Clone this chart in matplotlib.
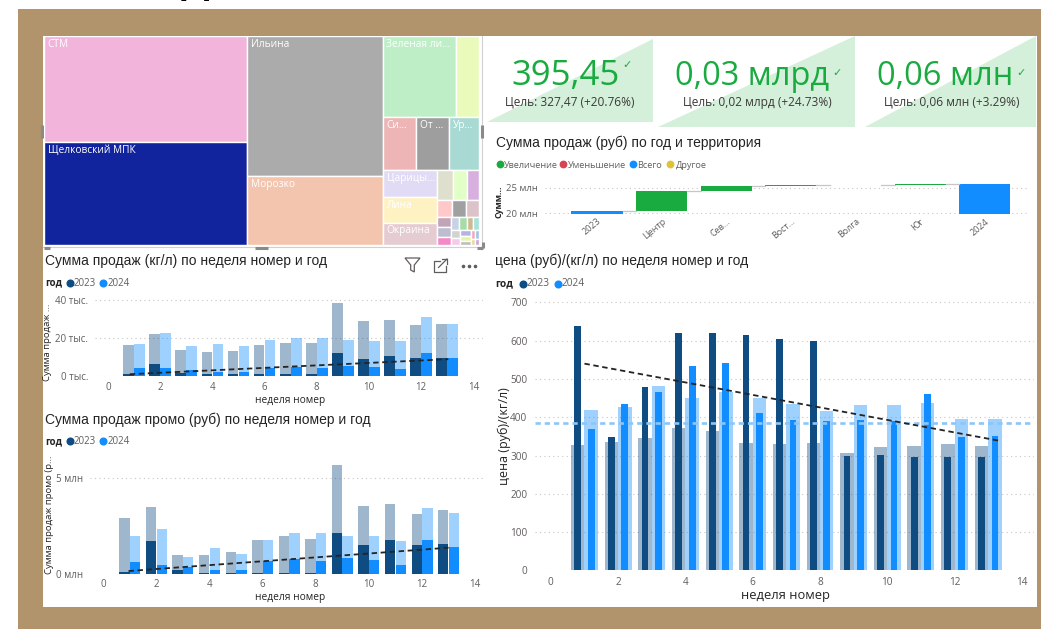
import numpy as np
import matplotlib.pyplot as plt
from matplotlib.patches import Rectangle, Polygon

plt.rcParams['font.family'] = ['Open Sans', 'DejaVu Sans']
ARIAL = ['Liberation Sans', 'DejaVu Sans']

W, H = 1041, 629

# treemap (доля продаж по производителю)
tm_labels = ['СТМ', 'Щелковский МПК', 'Ильина', 'Морозко', 'Зеленая ли...', '',
             'Си...', 'От ...', 'Ур...', 'Царицы...', 'Лина', 'Окраина'] + [''] * 22
tm_values = [21518, 20909, 19040, 9384, 5913, 1863, 1749, 1749, 1590, 1458, 1388, 1204,
             480, 420, 360, 255, 221, 221,
             150, 140, 120, 110, 100, 90, 80, 70, 60, 55, 50, 45, 40, 35, 28, 20]
tm_colors = ['#F2B4DB', '#12239E', '#ABABAB', '#F4C5AE', '#BEEEC6', '#EAFABB',
             '#EDB5B5', '#9E9E9E', '#A8DAD3', '#E1DBF6', '#FFF2C2', '#E5CCD1',
             '#DEDFCC', '#E2FFC8', '#D8B0E0', '#FFC9C9', '#A0A0A0', '#DCC3C9',
             '#C2A4B9', '#BDBDCF', '#F589C8', '#C8D2E6', '#A8DBAA', '#CBBB8E',
             '#A6E3D9', '#D2D2D2', '#F6CBEA', '#B4B4E3', '#E4F6A4', '#BEBEBE',
             '#F2A8B8', '#9FC4E8', '#E8D8A0', '#C9A6D9']

# KPI cards
kpi_values = ['395,45', '0,03 млрд', '0,06 млн']
kpi_goals = ['Цель: 327,47 (+20.76%)', 'Цель: 0,02 млрд (+24.73%)', 'Цель: 0,06 млн (+3.29%)']

# waterfall, млн руб
wf_labels = ['2023', 'Центр', 'Сев...', 'Вост...', 'Волга', 'Юг', '2024']
wf_total_2023 = 20.45
wf_changes = [3.90, 1.03, 0.15, 0.06, 0.06]
wf_legend = ['Увеличение', 'Уменьшение', 'Всего', 'Другое']

# weekly data
weeks = np.arange(1, 14)
kg_2023_all = [16.3, 22.3, 13.7, 12.5, 13.2, 16.1, 17.5, 17.2, 38.2, 28.8, 29.3, 26.8, 27.2]
kg_2024_all = [16.8, 22.6, 15.8, 16.7, 15.8, 18.8, 19.8, 20.0, 18.9, 18.6, 18.2, 31.1, 27.4]
kg_2023_sel = [0.9, 6.3, 1.6, 0.9, 0.9, 0.9, 0.9, 1.0, 11.9, 8.9, 10.5, 9.6, 9.3]
kg_2024_sel = [4.0, 4.4, 3.2, 2.3, 2.3, 4.2, 4.7, 4.4, 5.3, 4.7, 3.5, 12.3, 9.6]

promo_2023_all = [2.88, 3.45, 0.95, 0.97, 1.15, 1.75, 1.98, 1.82, 5.66, 3.54, 3.63, 3.11, 3.30]
promo_2024_all = [1.96, 2.33, 0.89, 1.32, 1.01, 1.74, 2.12, 2.12, 1.98, 1.98, 1.68, 3.40, 3.18]
promo_2023_sel = [0.07, 1.68, 0.19, 0.05, 0.05, 0.05, 0.05, 0.05, 2.10, 1.48, 1.74, 1.51, 1.55]
promo_2024_sel = [0.61, 0.45, 0.36, 0.21, 0.17, 0.64, 0.78, 0.64, 0.80, 0.69, 0.43, 1.74, 1.39]

price_2023_all = [328, 336, 345, 372, 364, 332, 330, 332, 306, 323, 324, 330, 326]
price_2024_all = [420, 427, 481, 450, 466, 451, 435, 416, 432, 432, 437, 396, 396]
price_2023_sel = [638, 348, 479, 620, 621, 615, 604, 599, 299, 302, 297, 297, 296]
price_2024_sel = [369, 434, 465, 533, 541, 411, 392, 390, 392, 389, 462, 348, 351]

C23 = '#0F4C81'
C24 = '#118DFF'
GREEN = '#1AAB40'
TXT = '#252423'
TICK = '#605E5C'


def squarify(vals, x0, y0, x1, y1, ratio=(1 + 5 ** 0.5) / 2):
    # d3-style squarified layout
    rects = []
    n = len(vals)
    i0 = 0
    value = float(sum(vals))
    while i0 < n:
        dx, dy = x1 - x0, y1 - y0
        i1 = i0
        s = vals[i1]
        i1 += 1
        mn = mx = s
        alpha = max(dy / dx, dx / dy) / (value * ratio)
        beta = s * s * alpha
        best = max(mx / beta, beta / mn)
        while i1 < n:
            v = vals[i1]
            s2 = s + v
            mn2, mx2 = min(mn, v), max(mx, v)
            beta = s2 * s2 * alpha
            r = max(mx2 / beta, beta / mn2)
            if r > best:
                break
            s, mn, mx, best = s2, mn2, mx2, r
            i1 += 1
        row = vals[i0:i1]
        if dx < dy:
            yb = y0 + dy * s / value
            xx = x0
            for v in row:
                w = dx * v / s
                rects.append((xx, y0, w, yb - y0))
                xx += w
            y0 = yb
        else:
            xb = x0 + dx * s / value
            yy = y0
            for v in row:
                h = dy * v / s
                rects.append((x0, yy, xb - x0, h))
                yy += h
            x0 = xb
        value -= s
        i0 = i1
    return rects


fig = plt.figure(figsize=(W / 100, H / 100), dpi=100)
bg = fig.add_axes([0, 0, 1, 1])
bg.set_xlim(0, W)
bg.set_ylim(H, 0)
bg.axis('off')
bg.add_patch(Rectangle((18, 9), W - 18, H - 9, color='#B1936C', lw=0))
bg.add_patch(Rectangle((43, 36), 994, 571, color='white', lw=0))
# heading above the screenshot, only its bottom edge is visible
bg.text(181, -7, 'Д', fontsize=29, fontweight='bold', family=ARIAL, va='baseline', color='black')


def px_axes(x0, y0, x1, y1):
    return fig.add_axes([x0 / W, 1 - y1 / H, (x1 - x0) / W, (y1 - y0) / H])


def style(ax, size=7):
    for s in ax.spines.values():
        s.set_visible(False)
    ax.tick_params(length=0, labelsize=size, labelcolor=TICK)
    ax.grid(axis='y', color='#C8C6C4', ls=(0, (1, 3)), lw=0.8)
    ax.set_axisbelow(True)
    ax.patch.set_alpha(0)


# ---- treemap
tm = px_axes(44, 36, 479, 245)
tm.set_xlim(0, 435)
tm.set_ylim(209, 0)
tm.axis('off')
for (x, y, w, h), lab, col in zip(squarify(tm_values, 0, 0, 435, 209), tm_labels, tm_colors):
    tm.add_patch(Rectangle((x, y), w, h, facecolor=col, edgecolor='white', lw=1))
    if lab:
        tm.text(x + 3.5, y + 8, lab, color='white', fontsize=7.3, va='center', ha='left')

# selection frame of treemap
bg.plot([482, 482], [36, 247], color='#D0D0D0', lw=0.8)
bg.plot([43, 482], [247, 247], color='#D0D0D0', lw=0.8)
for xs, ys in [([482, 482], [125, 138]), ([41.5, 41.5], [125, 138]), ([255, 268], [248, 248]),
               ([44, 50], [248, 248]), ([477, 483], [248, 248]), ([483, 483], [242, 248])]:
    bg.plot(xs, ys, color='#8A8A8A', lw=2.2, solid_capstyle='butt')

# ---- KPI cards
cards = [(487, 39, 653, 122), (658, 36, 855, 127), (865, 36, 1036, 127)]
val_pos = [(566, 85, 25), (752, 85, 23.5), (945, 85, 23.5)]
goal_pos = [(570, 105), (757.5, 106), (951.5, 106)]
check_pos = [(627.5, 65), (837, 73), (1021, 73)]
for (x0, y0, x1, y1), val, goal, (vx, vy, fs), (gx, gy), (cx, cy) in zip(
        cards, kpi_values, kpi_goals, val_pos, goal_pos, check_pos):
    bg.add_patch(Polygon([(x0, y1), (x1, y1), (x1, y0)], closed=True, color='#D4EFDA', lw=0))
    bg.text(vx, vy, val, fontsize=fs, color=GREEN, ha='center', va='baseline')
    bg.text(gx, gy, goal, fontsize=8.6, color='#3B3A39', ha='center', va='baseline')
    bg.text(cx, cy, '✓', fontsize=8, color=GREEN, ha='center', va='center',
            family=['DejaVu Sans'])

# ---- waterfall
bg.text(495.5, 146.5, 'Сумма продаж (руб) по год и территория', fontsize=10, color=TXT,
        family=ARIAL, va='baseline')
for cx, tx, lab, col in zip([499.5, 563, 633, 670], [504, 567.5, 637.5, 675.5], wf_legend,
                            [GREEN, '#D64554', C24, '#E1C233']):
    bg.plot(cx, 164.3, 'o', ms=4.6, color=col)
    bg.text(tx, 167.5, lab, fontsize=6.6, color=TICK, va='baseline')
bg.text(499, 201.7, 'Сумм...', fontsize=6.3, fontweight='bold', color=TXT, rotation=90,
        ha='center', va='center')

wf = px_axes(545, 180, 1028, 214.1)
style(wf, 6.8)
wf.set_xlim(-0.805, 6.67)
wf.set_ylim(19.85, 26.5)
bw = 0.79
levels = np.cumsum([wf_total_2023] + wf_changes)
wf.bar(0, wf_total_2023, width=bw, color=C24)
for i, d in enumerate(wf_changes, start=1):
    wf.bar(i, d, bottom=levels[i - 1], width=bw, color=GREEN if d >= 0 else '#D64554')
wf.bar(len(wf_labels) - 1, levels[-1], width=bw, color=C24)
for i, lv in enumerate(levels):
    wf.plot([i + bw / 2, i + 1 - bw / 2], [lv, lv], color='#C8C6C4', lw=0.9)
wf.set_yticks([20, 25], ['20 млн', '25 млн'])
wf.set_xticks(range(len(wf_labels)), wf_labels, rotation=40, ha='right',
              rotation_mode='anchor', fontsize=6.5)
wf.tick_params(axis='x', pad=2)
wf.tick_params(axis='y', pad=5)


# ---- weekly charts
def year_legend(x, base, d1, d2, fs=7):
    bg.text(x, base, 'год', fontsize=fs, fontweight='bold', color=TXT, va='baseline')
    for dx, lab, col in [(d1, '2023', C23), (d2, '2024', C24)]:
        bg.plot(x + dx, base - 3, 'o', ms=4.8, color=col)
        bg.text(x + dx + 4, base, lab, fontsize=fs, color=TICK, va='baseline')


def week_bars(ax, a23, a24, s23, s24, w, sw, off):
    ax.bar(weeks - off, a23, width=w, color=C23, alpha=0.4, lw=0)
    ax.bar(weeks + off, a24, width=w, color=C24, alpha=0.4, lw=0)
    ax.bar(weeks - off, s23, width=sw, color=C23, lw=0)
    ax.bar(weeks + off, s24, width=sw, color=C24, lw=0)


def trend(ax, s23, s24, t0, t1):
    x = np.concatenate([weeks, weeks])
    y = np.concatenate([s23, s24])
    k, b = np.polyfit(x, y, 1)
    xt = np.array([weeks[0] + t0, weeks[-1] + t1])
    ax.plot(xt, k * xt + b, color=TXT, ls=(0, (3, 2)), lw=1.3)


# top-left: кг/л
bg.text(45, 265, 'Сумма продаж (кг/л) по неделя номер и год', fontsize=10, color=TXT,
        family=ARIAL, va='baseline')
year_legend(45, 285.7, 25, 58.3)
ax1 = px_axes(95, 296.2, 483, 376)
style(ax1)
ax1.set_xlim(-0.5, 14.37)
ax1.set_ylim(0, 42)
week_bars(ax1, kg_2023_all, kg_2024_all, kg_2023_sel, kg_2024_sel, 0.41, 0.41, 0.21)
trend(ax1, kg_2023_sel, kg_2024_sel, -0.17, 0.04)
ax1.set_yticks([0, 20, 40], ['0 тыс.', '20 тыс.', '40 тыс.'])
ax1.set_xticks(range(0, 15, 2))
ax1.tick_params(axis='y', pad=5)
ax1.tick_params(axis='x', pad=4)
bg.text(290, 402.7, 'неделя номер', fontsize=7.3, color=TXT, ha='center', va='baseline')
bg.text(48, 342, 'Сумма продаж ...', fontsize=6.8, color=TXT, rotation=90,
        ha='center', va='center')

# filter / focus / more icons
bg.add_patch(Polygon([(405, 258), (420, 258), (414.3, 265), (414.3, 272), (410.7, 270),
                      (410.7, 265)], closed=True, fill=False, ec=TICK, lw=0.9))
bg.plot([440, 434, 434, 446, 446], [261, 261, 272, 272, 266], color=TICK, lw=0.9)
bg.plot([438.5, 447], [267.5, 259], color=TICK, lw=0.9)
bg.plot([442, 447, 447], [259, 259, 264], color=TICK, lw=0.9)
for xd in [463, 469, 475]:
    bg.plot(xd, 265.5, 'o', ms=1.6, color=TICK)

# bottom-left: промо
bg.text(45, 424, 'Сумма продаж промо (руб) по неделя номер и год', fontsize=10, color=TXT,
        family=ARIAL, va='baseline')
year_legend(45, 444, 25, 58.3)
ax2 = px_axes(90, 456.6, 485, 573.7)
style(ax2)
ax2.set_xlim(-0.5, 14.37)
ax2.set_ylim(0, 6.1)
week_bars(ax2, promo_2023_all, promo_2024_all, promo_2023_sel, promo_2024_sel, 0.39, 0.39, 0.2)
trend(ax2, promo_2023_sel, promo_2024_sel, -0.05, 0.0)
ax2.set_yticks([0, 5], ['0 млн', '5 млн'])
ax2.set_xticks(range(0, 15, 2))
ax2.tick_params(axis='y', pad=5)
ax2.tick_params(axis='x', pad=3.5)
bg.text(290, 599.7, 'неделя номер', fontsize=7.3, color=TXT, ha='center', va='baseline')
bg.text(49, 515, 'Сумма продаж промо (р...', fontsize=6.8, color=TXT, rotation=90,
        ha='center', va='center')

# right: цена
bg.text(495, 265, 'цена (руб)/(кг/л) по неделя номер и год', fontsize=10, color=TXT,
        family=ARIAL, va='baseline')
year_legend(495, 286.5, 27.8, 62.6, fs=7.3)
ax3 = px_axes(535, 294.8, 1034, 570.3)
style(ax3, 7.2)
ax3.set_xlim(-0.47, 14.36)
ax3.set_ylim(0, 720)
week_bars(ax3, price_2023_all, price_2024_all, price_2023_sel, price_2024_sel, 0.4, 0.2, 0.2)
ax3.axhline(np.mean(price_2023_all + price_2024_all), color='#8CC6F7', ls=(0, (2, 1.5)), lw=1.9)
trend(ax3, price_2023_sel, price_2024_sel, 0.0, 0.3)
ax3.set_yticks(range(0, 701, 100))
ax3.set_xticks(range(0, 15, 2))
ax3.tick_params(axis='y', pad=5.5)
ax3.tick_params(axis='x', pad=4.5)
bg.text(785, 599.3, 'неделя номер', fontsize=9.3, color=TXT, ha='center', va='baseline')
bg.text(504, 436, 'цена (руб)/(кг/л)', fontsize=9, color=TXT, rotation=90,
        ha='center', va='center')

fig.savefig('out.png', dpi=100)
